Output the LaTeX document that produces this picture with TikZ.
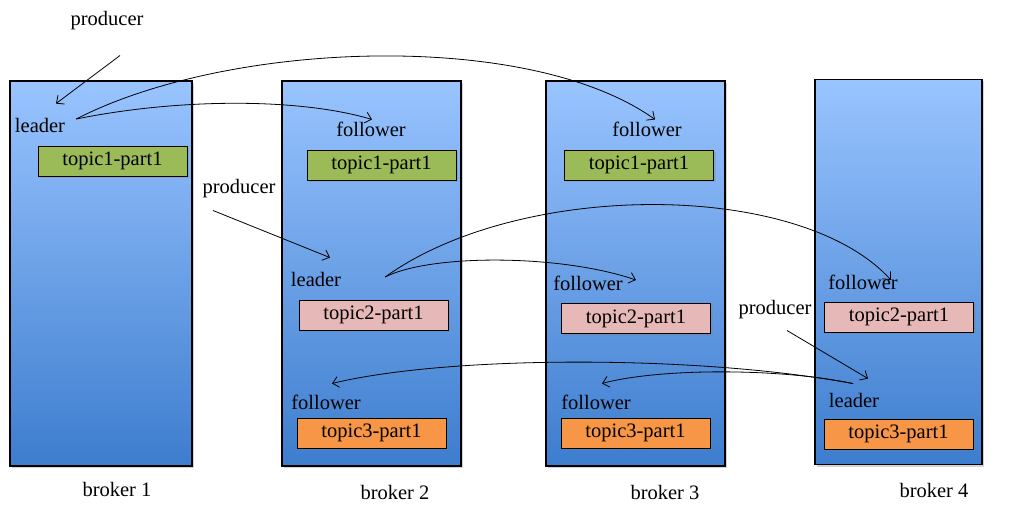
\documentclass[tikz,border=0pt]{standalone}
\usepackage{fontspec}
\setmainfont{Liberation Serif}
\usetikzlibrary{arrows.meta,shadows}
\definecolor{brokertop}{RGB}{153,196,255}
\definecolor{brokerbot}{RGB}{61,125,206}
\definecolor{topicone}{RGB}{155,187,89}
\definecolor{topictwo}{RGB}{230,185,184}
\definecolor{topicthree}{RGB}{247,150,70}
\tikzstyle{broker}=[draw=black,line width=1.5pt,top color=brokertop,bottom color=brokerbot,minimum height=385pt,inner sep=0pt,drop shadow={opacity=0.35,shadow xshift=2pt,shadow yshift=-2pt}]
\tikzstyle{part}=[draw=black,line width=0.8pt,minimum width=149pt,minimum height=30pt,inner sep=0pt,drop shadow={opacity=0.3,shadow xshift=2pt,shadow yshift=-2pt}]
\tikzstyle{role}=[inner sep=1pt]
\tikzstyle{link}=[draw,-{Straight Barb[length=6pt,width=11pt]},line width=0.8pt]

\begin{document}
\begin{tikzpicture}[x=1pt,y=-1pt,font=\fontsize{20.5}{24}\selectfont]
    \useasboundingbox (0,0) rectangle (1010,516);
    % First the brokers
    \foreach \pos/\name/\bw in {{(101,273.5)/b1/182}, {(371.5,273.5)/b2/179}, {(635.5,273.5)/b3/179}, {(898.5,272)/b4/167}}
        \node[broker,minimum width=\bw pt] (\name) at \pos {};
    \foreach \pos/\name/\txt in {{(117,489)/lb1/broker 1}, {(395,492)/lb2/broker 2}, {(665,492)/lb3/broker 3}, {(934,490)/lb4/broker 4}}
        \node (\name) at \pos {\txt};
    % Then the partitions
    \foreach \pos/\name/\col/\txt in {{(112.5,161)/t1b1/topicone/topic1-part1}, {(381.5,165)/t1b2/topicone/topic1-part1}, {(639,165)/t1b3/topicone/topic1-part1},
        {(373.5,315)/t2b2/topictwo/topic2-part1}, {(636,318.5)/t2b3/topictwo/topic2-part1}, {(899,317)/t2b4/topictwo/topic2-part1},
        {(371.5,433)/t3b2/topicthree/topic3-part1}, {(635.5,433)/t3b3/topicthree/topic3-part1}, {(898.5,434)/t3b4/topicthree/topic3-part1}}
        \node[part,fill=\col] (\name) at \pos {\txt};
    % Roles
    \foreach \pos/\name/\txt in {{(107,21)/prod1/producer}, {(40,125)/lead1/leader}, {(371,129)/fol12/follower}, {(647,129)/fol13/follower},
        {(239,189)/prod2/producer}, {(316,279)/lead2/leader}, {(588,283)/fol23/follower}, {(863,282)/fol24/follower},
        {(775,310)/prod3/producer}, {(854,400)/lead3/leader}, {(326,402)/fol32/follower}, {(596,402)/fol33/follower}}
        \node[role] (\name) at \pos {\txt};
    % Producers to leaders
    \path[link] ([shift={(13,24)}]prod1.south) -- ([shift={(16,-13)}]lead1.north);
    \path[link] ([shift={(-26,11)}]prod2.south) -- ([shift={(14,-13)}]lead2.north);
    \path[link] ([shift={(12,10)}]prod3.south) -- ([shift={(14,-13)}]lead3.north);
    % Leaders to followers
    \path[link] ([shift={(10,-6)}]lead1.east) .. controls (180,98) and (300,98) .. ([shift={(1,-1)}]fol12.north);
    \path[link] ([shift={(10,-6)}]lead1.east) .. controls (230,40) and (530,30) .. ([shift={(8,-1)}]fol13.north);
    \path[link] ([shift={(43,-2)}]lead2.east) .. controls (430,254) and (560,254) .. ([shift={(12,-3)}]fol23.east);
    \path[link] ([shift={(43,-2)}]lead2.east) .. controls (520,180) and (800,180) .. ([shift={(-8,-2)}]fol24.east);
    \path[link] ([shift={(-1,-8)}]lead3.north) .. controls (700,355) and (450,355) .. ([shift={(6,-10)}]fol32.north);
    \path[link] ([shift={(-1,-8)}]lead3.north) .. controls (780,368) and (660,368) .. ([shift={(6,-10)}]fol33.north);
\end{tikzpicture}
\end{document}
